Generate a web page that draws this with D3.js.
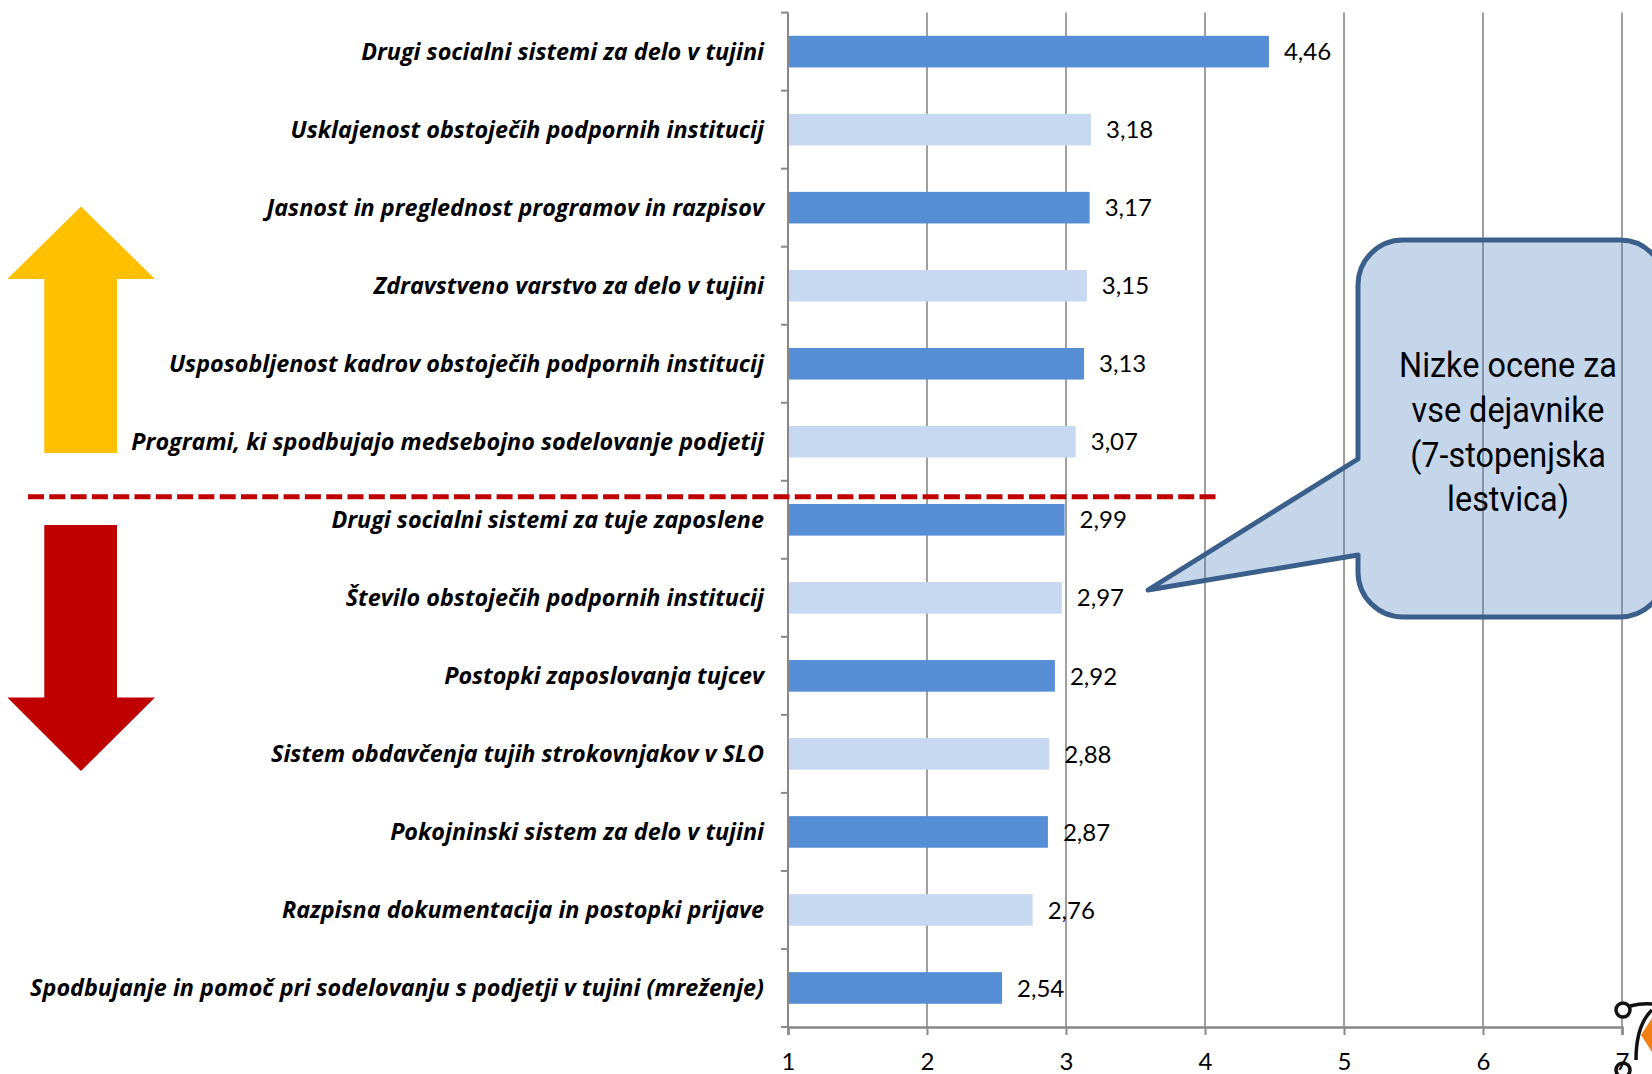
<!DOCTYPE html>
<html>
<head>
<meta charset="utf-8">
<script src="https://cdn.jsdelivr.net/npm/d3@7"></script>
<style>
  html, body { margin: 0; padding: 0; background: #ffffff; }
  svg { display: block; }
</style>
</head>
<body>
<script>
// ---- data ----
const categories = [
  "Drugi socialni sistemi za delo v tujini",
  "Usklajenost obstoječih podpornih institucij",
  "Jasnost in preglednost programov in razpisov",
  "Zdravstveno varstvo za delo v tujini",
  "Usposobljenost kadrov obstoječih podpornih institucij",
  "Programi, ki spodbujajo medsebojno sodelovanje podjetij",
  "Drugi socialni sistemi za tuje zaposlene",
  "Število obstoječih podpornih institucij",
  "Postopki zaposlovanja tujcev",
  "Sistem obdavčenja tujih strokovnjakov v SLO",
  "Pokojninski sistem za delo v tujini",
  "Razpisna dokumentacija in postopki prijave",
  "Spodbujanje in pomoč pri sodelovanju s podjetji v tujini (mreženje)"
];
const values = [4.46, 3.18, 3.17, 3.15, 3.13, 3.07, 2.99, 2.97, 2.92, 2.88, 2.87, 2.76, 2.54];
const xTicks = [1, 2, 3, 4, 5, 6, 7];
const calloutLines = ["Nizke ocene za", "vse dejavnike", "(7-stopenjska", "lestvica)"];

// ---- layout ----
const W = 1652, H = 1074;
const plot = { left: 788, right: 1622, top: 12.6, bottom: 1027 };
const darkBar = "#558ED5", lightBar = "#C6D9F1";
const gridColor = "#888888";
const labelFont = "'Open Sans', 'Noto Sans', sans-serif";
const numFont = "Lato, 'Noto Sans', sans-serif";

const svg = d3.select("body").append("svg")
  .attr("width", W).attr("height", H)
  .attr("viewBox", `0 0 ${W} ${H}`);

const x = d3.scaleLinear().domain([1, 7]).range([plot.left, plot.right]);
const y = d3.scaleBand().domain(categories).range([plot.top, plot.bottom]).padding(0);
const step = y.step();
const barH = step * 0.405;

// gridlines
svg.append("g").selectAll("line").data(xTicks.filter(t => t > 1)).join("line")
  .attr("x1", d => x(d)).attr("x2", d => x(d))
  .attr("y1", plot.top).attr("y2", plot.bottom)
  .attr("stroke", gridColor).attr("stroke-width", 1.6);

// bars
svg.append("g").selectAll("rect").data(values).join("rect")
  .attr("x", x(1))
  .attr("y", (d, i) => y(categories[i]) + (step - barH) / 2)
  .attr("width", d => x(d) - x(1))
  .attr("height", barH)
  .attr("fill", (d, i) => i % 2 === 0 ? darkBar : lightBar);

// value labels
const fmt = d3.format(".2f");
svg.append("g").selectAll("text").data(values).join("text")
  .attr("x", d => x(d) + 15)
  .attr("y", (d, i) => y(categories[i]) + step / 2)
  .attr("dy", "0.36em")
  .attr("font-family", numFont)
  .attr("font-size", 24)
  .attr("fill", "#000")
  .text(d => fmt(d).replace(".", ","));

// y axis (left) with ticks at band boundaries
const yAxisG = svg.append("g");
yAxisG.append("line")
  .attr("x1", plot.left).attr("x2", plot.left)
  .attr("y1", plot.top).attr("y2", plot.bottom)
  .attr("stroke", gridColor).attr("stroke-width", 2);
const boundaries = d3.range(categories.length + 1).map(i => plot.top + i * step);
yAxisG.selectAll("line.tk").data(boundaries).join("line").attr("class", "tk")
  .attr("x1", plot.left - 7).attr("x2", plot.left)
  .attr("y1", d => d).attr("y2", d => d)
  .attr("stroke", gridColor).attr("stroke-width", 2);

// category labels
const catLabels = svg.append("g").selectAll("text").data(categories).join("text")
  .attr("x", plot.left - 24)
  .attr("y", d => y(d) + step / 2)
  .attr("dy", "0.36em")
  .attr("text-anchor", "end")
  .attr("font-family", labelFont)
  .attr("font-style", "italic")
  .attr("font-weight", "bold")
  .attr("font-size", 20)
  .attr("fill", "#000")
  .text(d => d);
// fit the font size so the longest label spans the same width as in the original
const longestW = d3.max(catLabels.nodes(), n => n.getComputedTextLength());
const fitted = 20 * 734 / longestW;
catLabels.attr("font-size", fitted);

// x axis (bottom)
const xAxis = d3.axisBottom(x).tickValues(xTicks).tickSize(8).tickPadding(18).tickFormat(d3.format("d"));
const xg = svg.append("g").attr("transform", `translate(0,${plot.bottom})`).call(xAxis);
xg.select(".domain").attr("stroke", gridColor).attr("stroke-width", 2.5);
xg.selectAll(".tick line").attr("stroke", gridColor).attr("stroke-width", 2);
xg.selectAll(".tick text")
  .attr("font-family", numFont)
  .attr("font-size", 24).attr("fill", "#000");

// dashed red separator
const sepY = boundaries[6] + 16;
svg.append("line")
  .attr("x1", 28).attr("x2", 1219)
  .attr("y1", sepY).attr("y2", sepY)
  .attr("stroke", "#C00000").attr("stroke-width", 5)
  .attr("stroke-dasharray", "16,5.3");

// yellow up arrow
const upArrow = [[81, 206.5], [155, 279], [117, 279], [117, 453], [44.3, 453], [44.3, 279], [7.4, 279]];
svg.append("polygon")
  .attr("points", upArrow.map(p => p.join(",")).join(" "))
  .attr("fill", "#FFC000");

// red down arrow
const downArrow = [[44.3, 525], [117, 525], [117, 697.5], [155, 697.5], [81, 771], [7.4, 697.5], [44.3, 697.5]];
svg.append("polygon")
  .attr("points", downArrow.map(p => p.join(",")).join(" "))
  .attr("fill", "#C00000");

// callout
const c = { x0: 1358, y0: 240, x1: 1665, y1: 617, r: 45 };
const calloutPath = [
  `M${c.x0 + c.r},${c.y0}`,
  `H${c.x1 - c.r}`,
  `A${c.r},${c.r} 0 0 1 ${c.x1},${c.y0 + c.r}`,
  `V${c.y1 - c.r}`,
  `A${c.r},${c.r} 0 0 1 ${c.x1 - c.r},${c.y1}`,
  `H${c.x0 + c.r}`,
  `A${c.r},${c.r} 0 0 1 ${c.x0},${c.y1 - c.r}`,
  `V555`,
  `L1148,590`,
  `L${c.x0},459`,
  `V${c.y0 + c.r}`,
  `A${c.r},${c.r} 0 0 1 ${c.x0 + c.r},${c.y0}`,
  "Z"
].join(" ");
svg.append("path")
  .attr("d", calloutPath)
  .attr("fill", "#4F81BD").attr("fill-opacity", 0.32)
  .attr("stroke", "#3A5F8B").attr("stroke-width", 5)
  .attr("stroke-linejoin", "round");

// callout text: narrow face emulated with a horizontal squeeze
const cx = 1508;
const calloutG = svg.append("g");
const cTexts = calloutG.selectAll("text").data(calloutLines).join("text")
  .attr("x", 0)
  .attr("y", (d, i) => 377 + i * 44.8)
  .attr("text-anchor", "middle")
  .attr("font-family", "'Liberation Sans Narrow', Roboto, 'Liberation Sans', sans-serif")
  .attr("font-size", 36)
  .attr("fill", "#000")
  .text(d => d);
const firstW = cTexts.nodes()[0].getComputedTextLength();
const sx = Math.min(1, 218 / firstW);
calloutG.attr("transform", `translate(${cx},0) scale(${sx},1)`);

// small logo fragment (bottom-right corner)
const logo = svg.append("g");
logo.append("path")
  .attr("d", "M1652,1018 L1641,1035 L1652,1052 Z")
  .attr("fill", "#F07F14");
logo.append("path")
  .attr("d", "M1630,1006 Q1642,1003 1652,1004 M1652,1010 Q1636,1025 1636,1060")
  .attr("fill", "none").attr("stroke", "#111").attr("stroke-width", 3.5);
logo.append("circle").attr("cx", 1623).attr("cy", 1010).attr("r", 7)
  .attr("fill", "#fff").attr("stroke", "#111").attr("stroke-width", 3.5);
logo.append("circle").attr("cx", 1623).attr("cy", 1070).attr("r", 7)
  .attr("fill", "none").attr("stroke", "#111").attr("stroke-width", 3.5);
</script>
</body>
</html>
